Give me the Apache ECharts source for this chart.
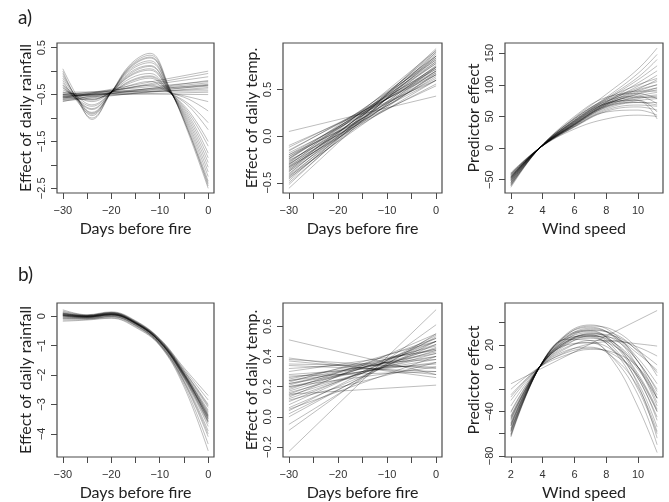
<!DOCTYPE html>
<html>
<head>
<meta charset="utf-8">
<script src="https://cdn.jsdelivr.net/npm/echarts@6/dist/echarts.min.js"></script>
<style>
  html, body { margin: 0; background: #fff; }
  #chart { width: 669px; height: 502px; }
</style>
</head>
<body>
<div id="chart"></div>
<script>
// ---- data ----
// a) rainfall: wavy fits, values at these days
const rainKnotsA = [-30, -27, -24, -20, -16, -12, -8, -4, 0];
const rainWavyA = [
  [0.05, -0.55, -1.03, -0.45, 0.15, 0.38, -0.35, -1.35, -2.5],
  [-0.05, -0.6, -0.95, -0.45, 0.08, 0.28, -0.38, -1.25, -2.35],
  [-0.15, -0.6, -0.88, -0.45, 0.02, 0.18, -0.4, -1.15, -2.15],
  [-0.25, -0.6, -0.8, -0.45, -0.05, 0.1, -0.42, -1.05, -1.95],
  [-0.3, -0.55, -0.72, -0.45, -0.1, 0.02, -0.43, -0.95, -1.75],
  [-0.35, -0.55, -0.65, -0.45, -0.15, -0.05, -0.44, -0.85, -1.5],
  [-0.4, -0.52, -0.6, -0.45, -0.22, -0.12, -0.45, -0.75, -1.25],
  [-0.45, -0.5, -0.55, -0.45, -0.3, -0.22, -0.45, -0.6, -0.85],
  [-0.5, -0.5, -0.52, -0.45, -0.35, -0.3, -0.45, -0.55, -0.65],
  [-0.2, -0.65, -0.92, -0.45, 0.05, 0.22, -0.4, -1.2, -2.25],
  [-0.1, -0.58, -0.9, -0.45, 0.1, 0.3, -0.38, -1.3, -2.45],
  [-0.3, -0.62, -0.82, -0.45, -0.02, 0.12, -0.42, -1.1, -2.05],
  [-0.65, -0.6, -0.6, -0.45, -0.2, -0.1, -0.44, -0.9, -1.6],
  [-0.35, -0.6, -0.75, -0.45, -0.08, 0.05, -0.43, -1.0, -1.85],
  [-0.55, -0.58, -0.62, -0.45, -0.25, -0.15, -0.45, -0.7, -1.1],
  [0.0, -0.62, -1.0, -0.45, 0.12, 0.34, -0.36, -1.3, -2.4]
];
// a) rainfall: near-straight fits, [value at -30, value at 0]
const rainFlatA = [
  [-0.55, -0.25], [-0.5, -0.3], [-0.6, -0.35], [-0.45, -0.42], [-0.62, -0.2],
  [-0.52, -0.45], [-0.58, 0.0], [-0.56, -0.12], [-0.48, -0.5], [-0.64, -0.3],
  [-0.53, -0.38], [-0.57, -0.28], [-0.5, -0.22], [-0.6, -0.05], [-0.54, -0.32]
];
// a) temperature: [value at -30, value at 0]
const tempLinesA = [
  [0.05, 0.43], [-0.10, 0.60], [-0.12, 0.66], [-0.15, 0.68], [-0.18, 0.62],
  [-0.20, 0.70], [-0.22, 0.74], [-0.24, 0.72], [-0.25, 0.78], [-0.27, 0.66],
  [-0.28, 0.80], [-0.30, 0.75], [-0.31, 0.84], [-0.32, 0.70], [-0.33, 0.78],
  [-0.35, 0.82], [-0.36, 0.74], [-0.38, 0.86], [-0.40, 0.80], [-0.41, 0.90],
  [-0.42, 0.76], [-0.44, 0.88], [-0.46, 0.84], [-0.48, 0.92], [-0.50, 0.86],
  [-0.52, 0.94], [-0.56, 0.90], [-0.26, 0.56], [-0.22, 0.60], [-0.30, 0.64],
  [-0.34, 0.66], [-0.38, 0.70], [-0.20, 0.54], [-0.29, 0.86], [-0.37, 0.92],
  [-0.43, 0.68], [-0.16, 0.72], [-0.24, 0.82], [-0.45, 0.74], [-0.33, 0.60]
];
// a) wind speed
const windKnotsA = [2, 3.8, 6, 8, 10, 11.2];
const windLinesA = [
  [-62, 0, 48, 85, 125, 158], [-59, 0, 46, 80, 118, 148], [-56, 0, 44, 78, 112, 140],
  [-54, 0, 43, 76, 108, 130], [-51, 0, 41, 73, 103, 122], [-50, 0, 40, 72, 98, 115],
  [-48, 0, 39, 70, 93, 108], [-47, 0, 38, 70, 90, 100], [-46, 0, 37, 68, 86, 95],
  [-45, 0, 37, 66, 82, 88], [-44, 0, 36, 65, 78, 82], [-43, 0, 36, 64, 75, 78],
  [-42, 0, 35, 62, 72, 72], [-41, 0, 34, 60, 68, 66], [-40, 0, 33, 58, 65, 60],
  [-42, 0, 34, 57, 60, 52], [-39, 0, 30, 46, 52, 50], [-57, 0, 50, 80, 86, 78],
  [-52, 0, 44, 74, 82, 70], [-48, 0, 41, 70, 75, 46], [-60, 0, 47, 78, 100, 110],
  [-54, 0, 42, 72, 95, 105], [-45, 0, 38, 68, 88, 95], [-50, 0, 40, 70, 80, 80],
  [-46, 0, 38, 66, 72, 68], [-58, 0, 46, 76, 90, 90], [-52, 0, 42, 71, 76, 57],
  [-49, 0, 39, 69, 85, 92], [-55, 0, 43, 74, 92, 100], [-47, 0, 37, 67, 80, 84]
];
// b) rainfall
const rainKnotsB = [-30, -25, -20, -15, -10, -5, 0];
const rainLinesB = [
  [0.22, 0.05, 0.15, -0.15, -0.76, -1.75, -2.70],
  [0.18, 0.04, 0.13, -0.17, -0.78, -1.80, -2.85],
  [0.15, 0.03, 0.12, -0.19, -0.80, -1.85, -3.00],
  [0.12, 0.01, 0.10, -0.20, -0.82, -1.90, -3.10],
  [0.10, 0.00, 0.09, -0.22, -0.84, -1.93, -3.20],
  [0.07, -0.01, 0.08, -0.23, -0.86, -1.97, -3.30],
  [0.05, -0.02, 0.06, -0.24, -0.87, -2.00, -3.40],
  [0.03, -0.03, 0.05, -0.25, -0.88, -2.03, -3.50],
  [0.01, -0.04, 0.04, -0.26, -0.90, -2.07, -3.60],
  [-0.02, -0.05, 0.02, -0.28, -0.92, -2.12, -3.75],
  [-0.05, -0.07, 0.00, -0.30, -0.94, -2.18, -3.90],
  [-0.09, -0.09, -0.02, -0.32, -0.96, -2.25, -4.10],
  [-0.13, -0.11, -0.05, -0.35, -0.98, -2.32, -4.35],
  [-0.17, -0.13, -0.07, -0.38, -1.00, -2.40, -4.58],
  [0.08, 0.01, 0.09, -0.21, -0.83, -1.92, -3.35],
  [0.04, -0.01, 0.07, -0.24, -0.86, -2.01, -3.45],
  [0.09, 0.02, 0.11, -0.21, -0.81, -1.95, -3.55],
  [0.02, -0.02, 0.06, -0.23, -0.85, -1.96, -3.25],
  [0.11, 0.02, 0.12, -0.18, -0.79, -1.86, -3.05],
  [-0.03, -0.05, 0.03, -0.27, -0.89, -2.10, -3.65],
  [0.05, 0.00, 0.07, -0.22, -0.84, -1.98, -3.38],
  [0.03, -0.02, 0.05, -0.24, -0.87, -2.04, -3.48],
  [0.06, 0.00, 0.08, -0.22, -0.85, -1.99, -3.42],
  [0.00, -0.03, 0.05, -0.25, -0.88, -2.06, -3.58],
  [-0.08, -0.08, -0.01, -0.31, -0.95, -2.22, -4.00]
];
// b) temperature: [value at -30, value at 0]
const tempLinesB = [
  [-0.23, 0.71], [-0.09, 0.61], [-0.05, 0.55], [0.00, 0.53], [0.02, 0.50],
  [0.04, 0.54], [0.06, 0.48], [0.08, 0.52], [0.10, 0.50], [0.12, 0.46],
  [0.13, 0.55], [0.14, 0.44], [0.15, 0.50], [0.16, 0.42], [0.17, 0.48],
  [0.18, 0.52], [0.19, 0.45], [0.20, 0.40], [0.21, 0.47], [0.22, 0.43],
  [0.22, 0.38], [0.23, 0.50], [0.24, 0.42], [0.24, 0.36], [0.25, 0.45],
  [0.26, 0.40], [0.28, 0.35], [0.30, 0.44], [0.32, 0.38], [0.34, 0.30],
  [0.35, 0.33], [0.37, 0.28], [0.38, 0.32], [0.39, 0.26], [0.51, 0.28],
  [0.15, 0.21], [0.11, 0.36], [0.05, 0.40], [0.27, 0.30], [0.20, 0.33]
];
// b) wind speed
const windKnotsB = [2, 3.8, 5.5, 7, 8.5, 10, 11.2];
const windLinesB = [
  [-63, 0, 28, 33, 20, -10, -45], [-61, 0, 27, 32, 22, -8, -40], [-58, 0, 27, 35, 28, 5, -20],
  [-56, 0, 25, 31, 22, -2, -28], [-53, 0, 25, 33, 30, 14, -5], [-50, 0, 23, 29, 20, -6, -38],
  [-48, 0, 21, 26, 19, 0, -28], [-45, 0, 22, 30, 28, 15, 2], [-40, 0, 18, 22, 14, -10, -48],
  [-35, 0, 17, 24, 24, 18, 10], [-30, 0, 15, 18, 8, -18, -58], [-25, 0, 14, 21, 23, 21, 19],
  [-58, 0, 30, 38, 30, 5, -28], [-55, 0, 29, 37, 33, 16, -8], [-62, 0, 25, 24, 4, -36, -77],
  [-51, 0, 24, 29, 17, -16, -64], [-44, 0, 20, 22, 7, -25, -70], [-53, 0, 26, 34, 28, 8, -15],
  [-47, 0, 23, 30, 25, 5, -22], [-41, 0, 20, 28, 26, 12, -3], [-57, 0, 26, 28, 14, -20, -60],
  [-52, 0, 23, 27, 15, -14, -54], [-20, 0, 11, 16, 13, 0, -25], [-27, 0, 13, 17, 11, -8, -40],
  [-60, 0, 29, 36, 27, 0, -35], [-46, 0, 22, 28, 22, 0, -32]
];
const windRiseB = [-15, 51]; // the one straight fit, at 2 and 11.2

// ticks and labels
const dayEnds = [-30, 0];
const windEnds = [2, 11.2];
const dayTicks = [-30, -25, -20, -15, -10, -5, 0];
const dayLabels = [-30, -20, -10, 0];
const windTicks = [2, 4, 6, 8, 10];
const yTicks = [
  [-2.5, -2, -1.5, -1, -0.5, 0, 0.5], [-0.5, 0, 0.5], [-50, 0, 50, 100, 150],
  [-4, -3, -2, -1, 0], [-0.2, 0, 0.2, 0.4, 0.6], [-80, -60, -40, -20, 0, 20, 40]
];
const yLabels = [
  [-2.5, -1.5, -0.5, 0.5], [-0.5, 0, 0.5], [-50, 0, 50, 100, 150],
  [-4, -3, -2, -1, 0], [-0.2, 0, 0.2, 0.4, 0.6], [-80, -40, 0, 20]
];
const yDecimals = [1, 1, 0, 0, 1, 0];
const yRanges = [[-2.6, 0.6], [-0.61, 1.0], [-71, 166], [-4.79, 0.45], [-0.266, 0.754], [-81, 57.8]];
const yNames = ['Effect of daily rainfall', 'Effect of daily temp.', 'Predictor effect',
  'Effect of daily rainfall', 'Effect of daily temp.', 'Predictor effect'];
const xNames = ['Days before fire', 'Days before fire', 'Wind speed',
  'Days before fire', 'Days before fire', 'Wind speed'];

// ---- layout ----
const cols = [[57, 157], [283, 159], [505, 158]];
const rows = [[43, 150], [303, 154]];
const tickFont = 'Liberation Sans, Arial, sans-serif';
const titleFont = 'Lato, sans-serif';

const fmt = (v, d) => v.toFixed(d).replace('-', '\u2212');

const grids = [], xAxes = [], yAxes = [];
for (let i = 0; i < 6; i++) {
  const c = cols[i % 3], r = rows[Math.floor(i / 3)];
  const isWind = i % 3 === 2;
  grids.push({
    left: c[0], top: r[0], width: c[1], height: r[1],
    show: true, borderColor: '#4a4a4a', borderWidth: 1.2, backgroundColor: 'transparent'
  });
  xAxes.push({
    type: 'value', gridIndex: i,
    min: isWind ? 1.63 : -31.2, max: isWind ? 11.57 : 1.2,
    axisLine: { show: false, onZero: false },
    splitLine: { show: false },
    axisTick: { show: true, length: 6, customValues: isWind ? windTicks : dayTicks,
      lineStyle: { color: '#4a4a4a', width: 1 } },
    axisLabel: { customValues: isWind ? windTicks : dayLabels, margin: 12,
      fontFamily: tickFont, fontSize: 11, color: '#333',
      formatter: v => fmt(v, 0) },
    name: xNames[i], nameLocation: 'middle', nameGap: 28,
    nameTextStyle: { fontFamily: titleFont, fontSize: 16, color: '#222' }
  });
  yAxes.push({
    type: 'value', gridIndex: i,
    min: yRanges[i][0], max: yRanges[i][1],
    axisLine: { show: false, onZero: false },
    splitLine: { show: false },
    axisTick: { show: true, length: 6, customValues: yTicks[i],
      lineStyle: { color: '#4a4a4a', width: 1 } },
    axisLabel: { customValues: yLabels[i], margin: 10, rotate: 90,
      fontFamily: tickFont, fontSize: 11, color: '#333',
      formatter: v => fmt(v, yDecimals[i]) },
    name: yNames[i], nameLocation: 'middle', nameGap: 23,
    nameTextStyle: { fontFamily: titleFont, fontSize: 16, color: '#222' }
  });
}

const lineStyle = { color: 'rgba(0,0,0,0.26)', width: 1 };
const series = [];
function addLine(g, xs, ys, smooth) {
  series.push({
    type: 'line', xAxisIndex: g, yAxisIndex: g,
    data: xs.map((x, k) => [x, ys[k]]),
    smooth: smooth, symbol: 'none', lineStyle: lineStyle,
    silent: true, animation: false
  });
}
rainFlatA.forEach(p => addLine(0, dayEnds, p, false));
rainWavyA.forEach(p => addLine(0, rainKnotsA, p, 0.4));
tempLinesA.forEach(p => addLine(1, dayEnds, p, false));
windLinesA.forEach(p => addLine(2, windKnotsA, p, 0.4));
rainLinesB.forEach(p => addLine(3, rainKnotsB, p, 0.4));
tempLinesB.forEach(p => addLine(4, dayEnds, p, false));
windLinesB.forEach(p => addLine(5, windKnotsB, p, 0.4));
addLine(5, windEnds, windRiseB, false);

const chart = echarts.init(document.getElementById('chart'));
chart.setOption({
  animation: false,
  backgroundColor: '#fff',
  grid: grids,
  xAxis: xAxes,
  yAxis: yAxes,
  series: series,
  graphic: [
    { type: 'text', left: 18, top: 8, style: { text: 'a)', font: '19px ' + titleFont, fill: '#222' } },
    { type: 'text', left: 18, top: 265, style: { text: 'b)', font: '19px ' + titleFont, fill: '#222' } }
  ]
});
</script>
</body>
</html>
